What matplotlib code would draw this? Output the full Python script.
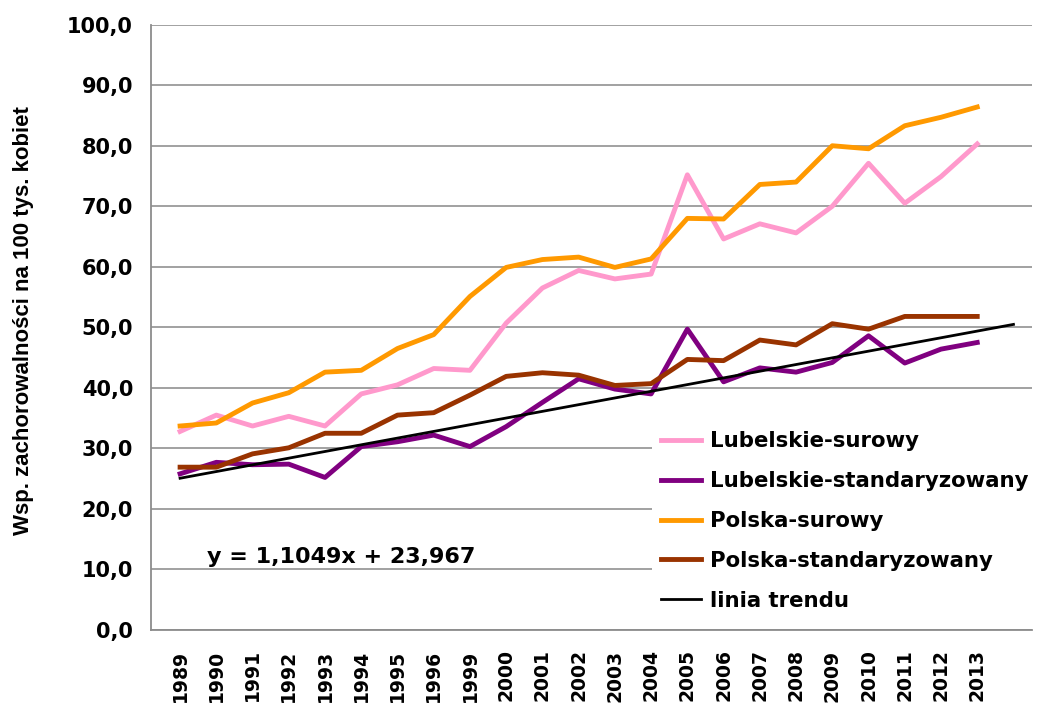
import numpy as np
import matplotlib
matplotlib.use("Agg")
import matplotlib.pyplot as plt

years = ["1989", "1990", "1991", "1992", "1993", "1994", "1995", "1996", "1999",
         "2000", "2001", "2002", "2003", "2004", "2005", "2006", "2007", "2008",
         "2009", "2010", "2011", "2012", "2013"]

lub_surowy = [32.8, 35.5, 33.7, 35.3, 33.7, 39.0, 40.5, 43.2, 42.9,
              50.7, 56.5, 59.4, 58.0, 58.8, 75.2, 64.6, 67.1, 65.6,
              70.0, 77.1, 70.5, 74.9, 80.3]
lub_stand = [25.8, 27.7, 27.3, 27.4, 25.2, 30.3, 31.1, 32.2, 30.3,
             33.6, 37.6, 41.5, 39.8, 39.0, 49.7, 41.0, 43.3, 42.6,
             44.2, 48.6, 44.1, 46.4, 47.5]
pol_surowy = [33.7, 34.2, 37.5, 39.2, 42.6, 42.9, 46.5, 48.8, 55.1,
              59.9, 61.2, 61.6, 59.9, 61.3, 68.0, 67.9, 73.6, 74.0,
              80.0, 79.5, 83.3, 84.7, 86.4]
pol_stand = [26.9, 26.9, 29.1, 30.1, 32.5, 32.5, 35.5, 35.9, 38.8,
             41.9, 42.5, 42.1, 40.4, 40.7, 44.7, 44.5, 47.9, 47.1,
             50.6, 49.7, 51.8, 51.8, 51.8]

# linear trend as printed on the chart (x counted from 1)
trend_slope = 1.1049
trend_intercept = 23.967
trend_points = 24

y_ticks = [0, 10, 20, 30, 40, 50, 60, 70, 80, 90, 100]

fig = plt.figure(figsize=(10.42, 7.13), dpi=100)
ax = fig.add_axes([0.145, 0.1164, 0.845, 0.849])

x = np.arange(len(years))
ax.plot(x, lub_surowy, color="#FF99CC", lw=3.5, label="Lubelskie-surowy")
ax.plot(x, lub_stand, color="#800080", lw=3.5, label="Lubelskie-standaryzowany")
ax.plot(x, pol_surowy, color="#FF9900", lw=3.5, label="Polska-surowy")
ax.plot(x, pol_stand, color="#993300", lw=3.5, label="Polska-standaryzowany")

tx = np.arange(1, trend_points + 1)
ax.plot(tx - 1, trend_slope * tx + trend_intercept, color="black", lw=2.0,
        label="linia trendu")

ax.set_xlim(-0.8, 23.5)
ax.set_ylim(0, 100)
ax.set_yticks(y_ticks)
ax.set_yticklabels([f"{v:.1f}".replace(".", ",") for v in y_ticks],
                   fontsize=15, fontweight="bold")
ax.set_xticks(x)
ax.set_xticklabels(years, rotation=90, fontsize=13.5, fontweight="bold")
ax.tick_params(axis="both", length=0)
ax.tick_params(axis="y", pad=13)
ax.tick_params(axis="x", pad=14)

ax.grid(axis="y", color="#9a9a9a", lw=1.3)
ax.set_axisbelow(True)
for side in ["top", "right"]:
    ax.spines[side].set_visible(False)
for side in ["left", "bottom"]:
    ax.spines[side].set_color("#8c8c8c")
    ax.spines[side].set_linewidth(1.3)

ax.set_ylabel("Wsp. zachorowalności na 100 tys. kobiet", fontsize=16,
              fontweight="bold", family="Liberation Sans")
ax.yaxis.set_label_coords(-0.1325, 0.512)

ax.text(0.75, 11.0, "y = 1,1049x + 23,967", fontsize=16, fontweight="bold")

leg = ax.legend(loc="upper left", bbox_to_anchor=(652 / 1042, 1 - 423 / 713),
                bbox_transform=fig.transFigure, frameon=True, fancybox=False,
                edgecolor="none", facecolor="white", framealpha=1,
                prop={"size": 15.3, "weight": "bold"}, handlelength=1.9,
                handletextpad=0.45, labelspacing=0.93, borderaxespad=0,
                borderpad=0.4)

fig.savefig("out.png", dpi=100)
